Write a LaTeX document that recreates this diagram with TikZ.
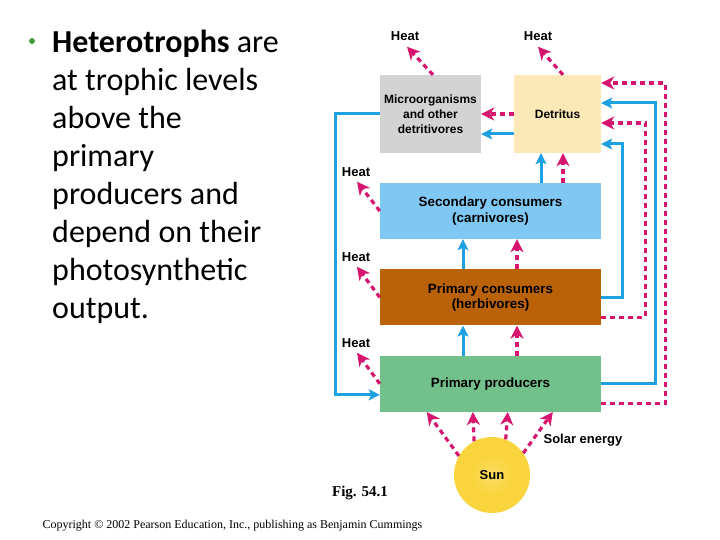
\documentclass[tikz,border=0pt]{standalone}
\usepackage{fontspec}
\setmainfont{Liberation Serif}
\setsansfont{Liberation Sans}
\newfontfamily\slidefont{Carlito}
\usetikzlibrary{positioning,arrows.meta,calc}
\definecolor{HeatPink}{RGB}{214,22,110}
\definecolor{FlowBlue}{RGB}{30,160,225}
\definecolor{MicroGray}{RGB}{211,211,211}
\definecolor{DetritusTan}{RGB}{253,232,184}
\definecolor{CarnBlue}{RGB}{128,200,244}
\definecolor{HerbBrown}{RGB}{186,98,8}
\definecolor{ProdGreen}{RGB}{115,193,138}
\definecolor{SunYellow}{RGB}{250,212,60}
\definecolor{BulletGreen}{RGB}{70,155,60}
\pgfdeclareradialshading{sunglow}{\pgfpoint{0bp}{0bp}}{color(0bp)=(SunYellow!80!white);
  color(14bp)=(SunYellow);color(32bp)=(SunYellow);color(42bp)=(SunYellow!40);color(50bp)=(white)}
\tikzset{
  bflow/.style={-{Stealth[length=11pt,width=11pt,inset=2.5pt]},line width=3pt,draw=FlowBlue},
  dflow/.style={-{Stealth[length=13pt,width=13pt,inset=4pt]},line width=3.2pt,draw=HeatPink,
    dash pattern=on 5pt off 4pt},
  levelbox/.style={minimum width=221pt,minimum height=56pt,inner sep=2pt,align=center,
    font=\sffamily\bfseries\fontsize{13.4}{15.3}\selectfont},
  topbox/.style={minimum height=78pt,inner sep=2pt,align=center,
    font=\sffamily\bfseries\fontsize{12}{15}\selectfont},
  heatlabel/.style={inner sep=1pt,font=\sffamily\bfseries\fontsize{13}{15}\selectfont},
  sunball/.style={circle,minimum size=76pt,inner sep=0pt,shade,shading=sunglow,
    font=\sffamily\bfseries\fontsize{13}{15}\selectfont},
  slidetext/.style={inner sep=0pt,align=left,font=\slidefont\fontsize{32}{38}\selectfont}
}
\begin{document}
\begin{tikzpicture}[x=1pt,y=-1pt]
  \useasboundingbox[fill=white] (0,0) rectangle (720,540);
  \node[circle,fill=BulletGreen,minimum size=6pt,inner sep=0pt] (dot) at (32,41) {};
  \node[slidetext,anchor=base west] (bodytext) at (52,318) {\textbf{Heterotrophs} are\\at trophic levels\\above the\\primary\\producers and\\depend on their\\photosynthetic\\output.};

  \node[topbox,fill=MicroGray,minimum width=101pt] (micro) at (430.5,114) {Microorganisms\\and other\\detritivores};
  \node[topbox,fill=DetritusTan,minimum width=87pt] (det) at (557.5,114) {Detritus};
  \node[levelbox,fill=CarnBlue] (sc) at (490.5,211) {Secondary consumers\\(carnivores)};
  \node[levelbox,fill=HerbBrown,below=30pt of sc] (pc) {Primary consumers\\(herbivores)};
  \node[levelbox,fill=ProdGreen,below=30pt of pc] (pp) {Primary producers};
  \node[sunball] (sun) at (492,475) {Sun};

  \node[heatlabel] (heatm) at (405,36) {Heat};
  \node[heatlabel] (heatd) at (538,36) {Heat};
  \node[heatlabel] (heatsc) at (356,172) {Heat};
  \node[heatlabel] (heatpc) at (356,257) {Heat};
  \node[heatlabel] (heatpp) at (356,343) {Heat};
  \node[heatlabel] (solar) at (583,440) {Solar energy};

  \draw[dflow] ([xshift=2.5pt]micro.north) -- ([xshift=2pt,yshift=-5pt]heatm.south);
  \draw[dflow] ([xshift=5.5pt]det.north) -- ([yshift=-5pt]heatd.south);
  \draw[dflow] (sc.west) -- ([xshift=1pt,yshift=-4pt]heatsc.south);
  \draw[dflow] (pc.west) -- ([xshift=1pt,yshift=-4pt]heatpc.south);
  \draw[dflow] (pp.west) -- ([xshift=1pt,yshift=-4pt]heatpp.south);

  \draw[dflow] (det.west) -- (micro.east);
  \draw[bflow] ([yshift=-20pt]det.west) -- ([yshift=-20pt]micro.east);
  \draw[bflow] ($(sc.north)+(50.5,0)$) -- ($(det.south)+(-16.5,0)$);
  \draw[dflow] ($(sc.north)+(72.5,0)$) -- ($(det.south)+(5.5,0)$);
  \draw[bflow] ($(pc.north)+(-27.5,0)$) -- ($(sc.south)+(-27.5,0)$);
  \draw[dflow] ($(pc.north)+(26.5,0)$) -- ($(sc.south)+(26.5,0)$);
  \draw[bflow] ($(pp.north)+(-27.5,0)$) -- ($(pc.south)+(-27.5,0)$);
  \draw[dflow] ($(pp.north)+(26.5,0)$) -- ($(pc.south)+(26.5,0)$);

  \draw[bflow] (micro.west) -- ++(-44,0) |- ([yshift=-11pt]pp.west);
  \draw[bflow] (pc.east) -- ++(21,0) |- ([yshift=-30pt]det.east);
  \draw[dflow] ([yshift=-20pt]pc.east) -- ++(44,0) |- ([yshift=-9pt]det.east);
  \draw[bflow] (pp.east) -- ++(54,0) |- ([yshift=11pt]det.east);
  \draw[dflow] ([yshift=-20pt]pp.east) -- ++(64,0) |- ([yshift=31pt]det.east);

  \draw[dflow] (sun.150) -- ([xshift=47pt]pp.south west);
  \draw[dflow] (sun.118) -- ([xshift=93pt]pp.south west);
  \draw[dflow] (sun.69) -- ([xshift=128pt]pp.south west);
  \draw[dflow] (sun.35) -- ([xshift=173pt]pp.south west);

  \node[font=\bfseries\fontsize{15}{18}\selectfont] (fig) at (360,493) {Fig. 54.1};
  \node[font=\fontsize{12}{14}\selectfont] (copy) at (232.5,526) {Copyright \textcopyright{} 2002 Pearson Education, Inc., publishing as Benjamin Cummings};
\end{tikzpicture}
\end{document}
